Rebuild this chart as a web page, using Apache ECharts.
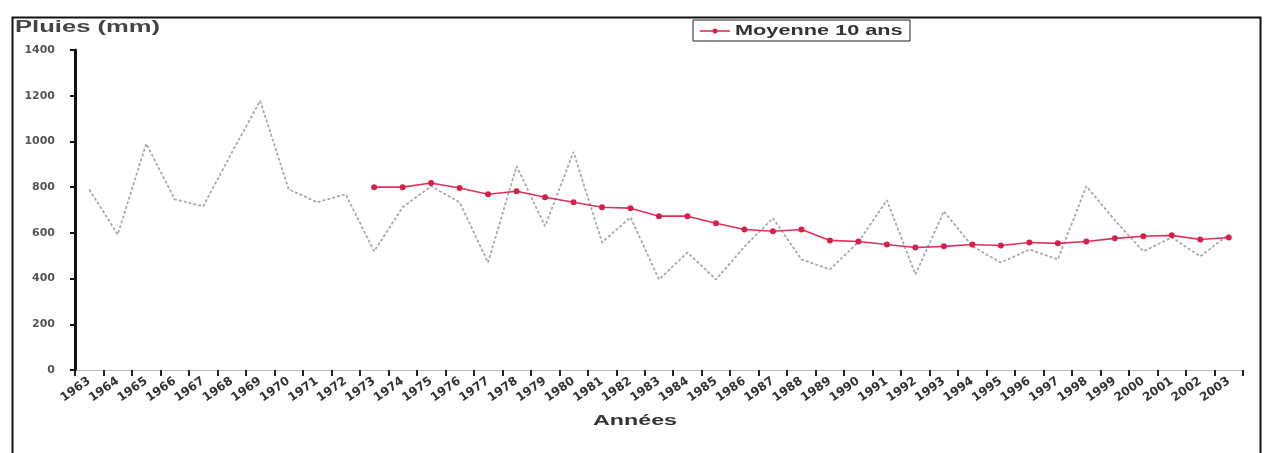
<!DOCTYPE html>
<html>
<head>
<meta charset="utf-8">
<script src="https://cdn.jsdelivr.net/npm/echarts@6/dist/echarts.min.js"></script>
<style>
html,body{margin:0;padding:0;background:#fff;}
#chart{width:1264px;height:453px;}
</style>
</head>
<body>
<div id="chart"></div>
<script>
const years = [];
for (let y = 1963; y <= 2003; y++) years.push(String(y));

const pluies = [790, 593, 990, 747, 716, 950, 1178, 791, 734, 769,
                519, 712, 804, 734, 470, 892, 629, 954, 558, 668,
                396, 514, 396, 540, 664, 484, 440, 560, 743, 418,
                694, 541, 470, 527, 484, 804, 655, 519, 580, 497, 593];

const moyenne10 = [null, null, null, null, null, null, null, null, null, null,
                   800, 800, 818, 796, 769, 782, 756, 734, 712, 708,
                   673, 673, 642, 615, 607, 615, 567, 562, 549, 536,
                   541, 549, 545, 558, 554, 562, 576, 585, 589, 571, 580];

const yTicks = [0, 200, 400, 600, 800, 1000, 1200, 1400];

const chart = echarts.init(document.getElementById('chart'));
chart.setOption({
  animation: false,
  backgroundColor: '#fff',
  graphic: [
    {
      type: 'rect', left: 10, top: 15,
      shape: { width: 1248, height: 445 },
      style: { fill: 'none', stroke: '#111', lineWidth: 2 }
    },
    {
      type: 'text', x: 15, y: 28, scaleX: 1.6,
      style: { text: 'Pluies (mm)', font: 'bold 16px "Liberation Sans", Arial', fill: '#444', textVerticalAlign: 'middle' }
    },
    {
      type: 'text', x: 593, y: 421, scaleX: 1.55,
      style: { text: 'Années', font: 'bold 15px "Liberation Sans", Arial', fill: '#333', textVerticalAlign: 'middle' }
    },
    {
      type: 'rect', x: 693, y: 20,
      shape: { width: 217, height: 21 },
      style: { fill: '#fff', stroke: '#222', lineWidth: 1 }
    },
    {
      type: 'line', shape: { x1: 700, y1: 31, x2: 730, y2: 31 },
      style: { stroke: '#e0305a', lineWidth: 1.6 }
    },
    {
      type: 'circle', shape: { cx: 715, cy: 31, r: 2.5 },
      style: { fill: '#d6204c' }
    },
    {
      type: 'text', x: 735, y: 31, scaleX: 1.55,
      style: { text: 'Moyenne 10 ans', font: 'bold 14px "Liberation Sans", Arial', fill: '#333', textVerticalAlign: 'middle' }
    }
  ],
  grid: { left: 75, right: 21, top: 50, bottom: 83, containLabel: false },
  xAxis: {
    type: 'category', data: years, boundaryGap: true,
    axisLine: { lineStyle: { color: '#aab', width: 1, type: 'dotted' } },
    axisTick: { show: true, interval: 0, length: 6, lineStyle: { color: '#222', width: 2 } },
    axisLabel: { interval: 0, rotate: 35, fontSize: 12, fontWeight: 'bold', color: '#333',
                 fontFamily: 'DejaVu Sans', margin: 10 },
    splitLine: { show: false }
  },
  yAxis: {
    type: 'value', min: 0, max: 1400, interval: 200,
    axisLine: { show: true, lineStyle: { color: '#111', width: 3 } },
    axisTick: { show: true, length: 5, lineStyle: { color: '#111', width: 2 } },
    axisLabel: { fontSize: 11, color: '#555', fontFamily: 'DejaVu Sans', fontWeight: 'bold', margin: 20,
                 formatter: v => yTicks.includes(v) ? String(v) : '' },
    splitLine: { show: false }
  },
  series: [
    {
      name: 'Pluies', type: 'line', data: pluies,
      symbol: 'none', smooth: false,
      lineStyle: { color: '#a9a9b4', width: 1.8, type: [3, 2] },
      z: 2
    },
    {
      name: 'Moyenne 10 ans', type: 'line', data: moyenne10,
      symbol: 'circle', symbolSize: 6,
      itemStyle: { color: '#d6204c' },
      lineStyle: { color: '#e0305a', width: 1.6 },
      z: 3
    }
  ]
});
</script>
</body>
</html>
